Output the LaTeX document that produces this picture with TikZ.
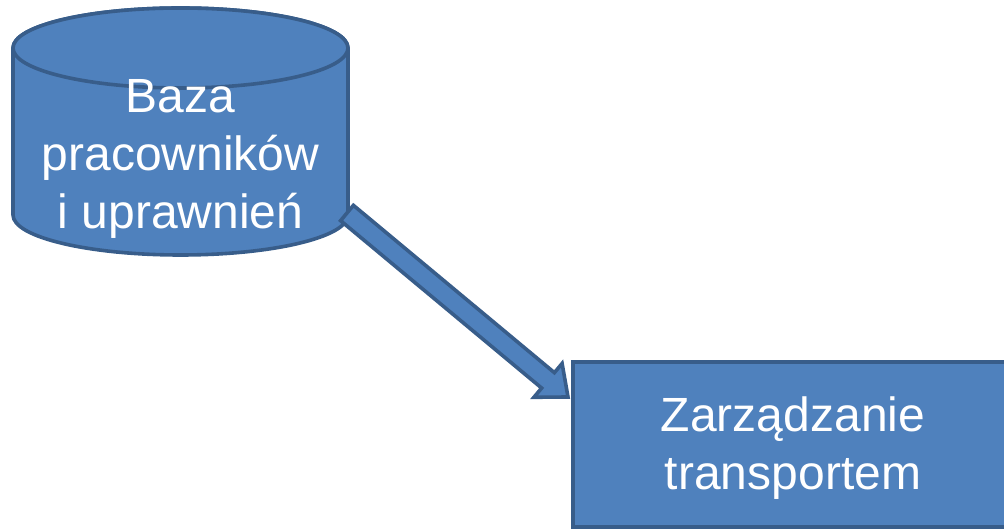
\documentclass[tikz,border=0pt]{standalone}
\usepackage{fontspec}
\setmainfont{Liberation Sans}
\usetikzlibrary{calc}
\definecolor{fillblue}{HTML}{4F81BD}
\definecolor{edgeblue}{HTML}{385D8A}
\begin{document}
\begin{tikzpicture}[x=1pt,y=1pt,
 shapestyle/.style={fill=fillblue,draw=edgeblue,line width=3.6pt,line join=round},
 txt/.style={text=white,font=\fontsize{48}{58}\selectfont,align=center,inner sep=0pt}]
\useasboundingbox (0,0) rectangle (1004,530);
\clip (0,0) rectangle (1004,530);
% cylinder
\draw[shapestyle] (13,482) -- (13,315) arc[start angle=180,end angle=360,x radius=167.5,y radius=40] -- (348,482) arc[start angle=0,end angle=180,x radius=167.5,y radius=40] -- cycle;
\draw[shapestyle] (180.5,482) ellipse[x radius=167.5,y radius=40];
\node[txt] (db) at (180.5,371) {Baza\\pracowników\\i uprawnień};
% rectangle
\node[shapestyle,line join=miter,minimum width=440,minimum height=165,inner sep=0pt] (tr) at (793,85.5) {};
\node[txt] (trtext) at (793,81.5) {Zarządzanie\\transportem};
% block arrow
\coordinate (t) at (347,317);
\coordinate (h) at (568,133);
\coordinate (n) at ($(h)!26pt!(t)$);
\draw[shapestyle,line join=miter] ($(t)!10pt!90:(h)$) -- ($(n)!10pt!90:(h)$) -- ($(n)!22pt!90:(h)$) -- (h) -- ($(n)!22pt!-90:(h)$) -- ($(n)!10pt!-90:(h)$) -- ($(t)!10pt!-90:(h)$) -- cycle;
\end{tikzpicture}
\end{document}
